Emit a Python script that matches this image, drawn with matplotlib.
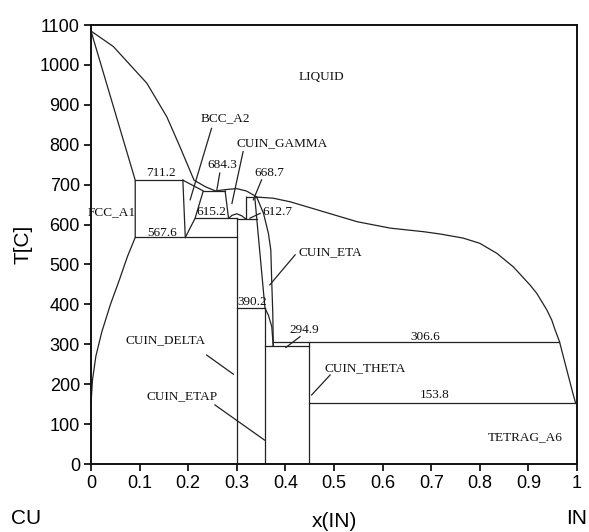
"""
Cu-In phase diagram redrawn with pyplot
"""

import matplotlib.pyplot as plt

# liquidus (x = mole fraction In, T in C)
liq_x = [0, 0.046, 0.115, 0.156, 0.183, 0.212, 0.235, 0.256, 0.28, 0.30,
         0.32, 0.342, 0.375, 0.41, 0.479, 0.548, 0.616, 0.685, 0.72, 0.766,
         0.800, 0.835, 0.869, 0.903, 0.917, 0.938, 0.948, 0.955, 0.964,
         0.979, 0.992, 0.997]
liq_T = [1084.9, 1046, 954, 870, 795, 711.2, 695, 684.3, 688, 690,
         684, 668.7, 666, 657, 632, 607, 591, 582, 576, 566,
         553, 528, 494, 449, 428, 386, 361, 336, 306.6,
         236, 175, 153.8]

# fcc solidus and solvus
fcc_x = [0, 0.091, 0.091, 0.075, 0.058, 0.040, 0.022, 0.010, 0.003, 0]
fcc_T = [1084.9, 711.2, 567.6, 520, 460, 400, 330, 270, 210, 150]

# bcc field
bcc_left_x = [0.189, 0.194]
bcc_left_T = [711.2, 567.6]
bcc_right_x = [0.189, 0.231, 0.214, 0.194]
bcc_right_T = [711.2, 684.3, 615.2, 567.6]

# gamma field
gam_x = [0.276, 0.283, 0.29, 0.30, 0.31, 0.320, 0.320]
gam_T = [684.3, 615.2, 623, 627, 622, 612.7, 668.7]

# eta field
eta_left_x = [0.337, 0.358, 0.365, 0.372, 0.375]
eta_left_T = [668.7, 390.2, 373, 344, 294.9]
eta_right_x = [0.341, 0.355, 0.365, 0.370, 0.372, 0.374, 0.375, 0.375]
eta_right_T = [668.7, 628, 578, 536, 453, 380, 306.6, 294.9]

# invariant lines: temperature, x from, x to
inv_T = [711.2, 684.3, 668.7, 615.2, 612.7, 567.6, 390.2, 306.6, 294.9, 153.8]
inv_x0 = [0.091, 0.231, 0.320, 0.214, 0.30, 0.091, 0.30, 0.375, 0.358, 0.449]
inv_x1 = [0.189, 0.276, 0.342, 0.30, 0.341, 0.30, 0.358, 0.964, 0.449, 0.997]

# line compounds: x, T top
comp_x = [0.30, 0.358, 0.449]
comp_T = [615.2, 390.2, 306.6]

# labels
lab_text = ["LIQUID", "BCC_A2", "CUIN_GAMMA", "711.2", "684.3", "668.7",
            "615.2", "612.7", "567.6", "CUIN_ETA", "390.2", "294.9",
            "306.6", "CUIN_THETA", "153.8", "CUIN_DELTA", "CUIN_ETAP",
            "TETRAG_A6"]
lab_x = [0.475, 0.276, 0.394, 0.144, 0.271, 0.366, 0.247, 0.384, 0.146,
         0.492, 0.331, 0.438, 0.687, 0.564, 0.708, 0.154, 0.187, 0.893]
lab_T = [970, 867, 805, 730, 749, 730, 632, 632, 579, 531, 407, 336,
         319, 240, 173, 311, 169, 68]

# leader lines: (x0, T0, x1, T1)
leaders = [
    (0.248, 841, 0.204, 662),
    (0.313, 783, 0.290, 653),
    (0.265, 729, 0.259, 687),
    (0.351, 712, 0.334, 662),
    (0.348, 628, 0.327, 616),
    (0.420, 524, 0.368, 449),
    (0.430, 319, 0.401, 292),
    (0.492, 223, 0.454, 173),
    (0.238, 273, 0.293, 225),
    (0.255, 148, 0.357, 60),
]

x_ticks = [0, 0.1, 0.2, 0.3, 0.4, 0.5, 0.6, 0.7, 0.8, 0.9, 1]
x_tick_labels = ["0", "0.1", "0.2", "0.3", "0.4", "0.5", "0.6", "0.7",
                 "0.8", "0.9", "1"]
y_ticks = list(range(0, 1200, 100))


def main():
    fig = plt.figure(figsize=(5.89, 5.32), dpi=100)
    ax = fig.add_axes([0.1545, 0.1278, 0.8251, 0.8252])

    lw = 0.9
    c = "#222222"
    ax.plot(liq_x, liq_T, color=c, lw=lw)
    ax.plot(fcc_x, fcc_T, color=c, lw=lw)
    ax.plot(bcc_left_x, bcc_left_T, color=c, lw=lw)
    ax.plot(bcc_right_x, bcc_right_T, color=c, lw=lw)
    ax.plot(gam_x, gam_T, color=c, lw=lw)
    ax.plot(eta_left_x, eta_left_T, color=c, lw=lw)
    ax.plot(eta_right_x, eta_right_T, color=c, lw=lw)

    for t, a, b in zip(inv_T, inv_x0, inv_x1):
        ax.plot([a, b], [t, t], color=c, lw=lw)
    for x, t in zip(comp_x, comp_T):
        ax.plot([x, x], [0, t], color=c, lw=lw)

    for x0, t0, x1, t1 in leaders:
        ax.plot([x0, x1], [t0, t1], color=c, lw=lw)

    for s, x, t in zip(lab_text, lab_x, lab_T):
        ax.text(x, t, s, ha="center", va="center", fontsize=9.5,
                family="Liberation Serif", color="#111111")
    ax.text(-0.006, 632, "FCC_A1", ha="left", va="center", fontsize=9.5,
            family="Liberation Serif", color="#111111")

    ax.set_xlim(0, 1)
    ax.set_ylim(0, 1100)
    ax.set_xticks(x_ticks)
    ax.set_xticklabels(x_tick_labels)
    ax.set_yticks(y_ticks)
    for lab in ax.get_xticklabels() + ax.get_yticklabels():
        lab.set_family("Liberation Sans")
        lab.set_fontsize(13)
    ax.tick_params(direction="out", length=5, width=1.2, pad=3)

    for sp in ax.spines.values():
        sp.set_linewidth(1.4)
        sp.set_color("#111111")

    ax.set_xlabel("x(IN)", fontsize=15, family="Liberation Sans", labelpad=14)
    ax.set_ylabel("T[C]", fontsize=15, family="Liberation Sans", labelpad=5)

    fig.text(26 / 589, 1 - 518 / 532, "CU", ha="center", va="center",
             fontsize=15, family="Liberation Sans")
    fig.text(577 / 589, 1 - 518 / 532, "IN", ha="center", va="center",
             fontsize=15, family="Liberation Sans")

    plt.savefig("out.png")


if __name__ == "__main__":
    main()
